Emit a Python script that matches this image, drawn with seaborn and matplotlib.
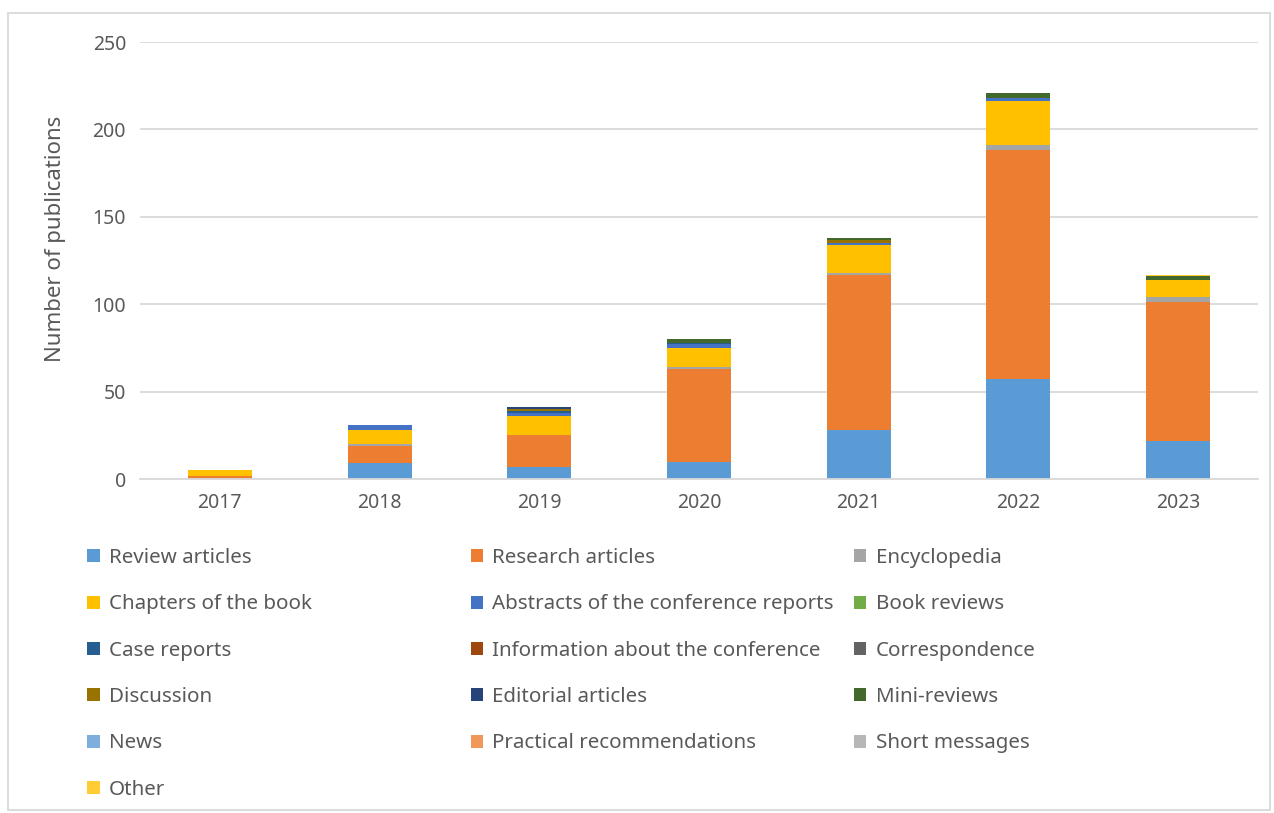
import matplotlib
matplotlib.use("Agg")
import matplotlib.pyplot as plt
from matplotlib.patches import Patch, Rectangle
import numpy as np
import pandas as pd
import seaborn as sns

years = ["2017", "2018", "2019", "2020", "2021", "2022", "2023"]

categories = [
    "Review articles", "Research articles", "Encyclopedia",
    "Chapters of the book", "Abstracts of the conference reports", "Book reviews",
    "Case reports", "Information about the conference", "Correspondence",
    "Discussion", "Editorial articles", "Mini-reviews",
    "News", "Practical recommendations", "Short messages",
    "Other",
]

review = [0, 9, 7, 10, 28, 57, 22]
research = [2, 10, 18, 53, 89, 131, 79]
encyclopedia = [0, 1, 0, 1, 1, 3, 3]
chapters = [3, 8, 11, 11, 16, 25, 10]
abstracts = [0, 3, 2, 2, 1, 2, 0]
book_reviews = [0, 0, 0, 0, 0, 0, 0]
case_reports = [0, 0, 1, 1, 0, 0, 0]
info_conference = [0, 0, 0, 0, 0, 0, 0]
correspondence = [0, 0, 0, 0, 0, 0, 0]
discussion = [0, 0, 1, 0, 2, 0, 0]
editorial = [0, 0, 1, 0, 0, 0, 0]
mini_reviews = [0, 0, 0, 2, 1, 3, 2]
news = [0, 0, 0, 0, 0, 0, 0]
practical = [0, 0, 0, 0, 0, 0, 0]
short_messages = [0, 0, 0, 0, 0, 0, 0]
other = [0, 0, 0, 0, 0, 0, 1]

series = [review, research, encyclopedia, chapters, abstracts, book_reviews,
          case_reports, info_conference, correspondence, discussion, editorial,
          mini_reviews, news, practical, short_messages, other]

colors = ["#5B9BD5", "#ED7D31", "#A5A5A5", "#FFC000", "#4472C4", "#70AD47",
          "#255E91", "#9E480E", "#636363", "#997300", "#264478", "#43682B",
          "#7CAFDD", "#F1975A", "#B7B7B7", "#FFCD33"]

sns.set_style("white")
plt.rcParams["font.family"] = ["Noto Sans", "DejaVu Sans"]
text_color = "#595959"

df = pd.DataFrame(np.array(series).T, columns=categories)
df["year"] = years
cum = df[categories].cumsum(axis=1)
cum["year"] = years

fig = plt.figure(figsize=(12.74, 8.13), dpi=100)
ax = fig.add_axes([0.1099, 0.4108, 0.8775, 0.5375])

# stacked bars: draw cumulative totals from top layer down
for cat, col in reversed(list(zip(categories, colors))):
    sns.barplot(data=cum, x="year", y=cat, color=col, width=0.4,
                saturation=1, ax=ax, linewidth=0)

ax.set_ylim(0, 250)
ax.set_yticks([0, 50, 100, 150, 200, 250])
ax.yaxis.grid(True, color="#D9D9D9", linewidth=1.3)
ax.set_axisbelow(True)
for s in ["top", "right", "left"]:
    ax.spines[s].set_visible(False)
ax.spines["bottom"].set_color("#D9D9D9")
ax.spines["bottom"].set_linewidth(1.3)
ax.tick_params(axis="both", length=0, labelsize=14, labelcolor=text_color, pad=10)
ax.set_xlabel("")
ax.set_ylabel("Number of publications", fontsize=16, color=text_color)
ax.yaxis.set_label_coords(-0.066, 0.549)

# legend in three columns filled row-wise
handles = [Patch(facecolor=c, edgecolor="none") for c in colors]
col_x = [0.062, 0.363, 0.664]
for j in range(3):
    idx = list(range(j, len(categories), 3))
    fig.legend([handles[i] for i in idx], [categories[i] for i in idx],
               loc="upper left", bbox_to_anchor=(col_x[j], 0.336),
               frameon=False, fontsize=14.8, labelcolor=text_color,
               handlelength=0.6, handleheight=0.6, handletextpad=0.45,
               labelspacing=1.28, borderaxespad=0)

fig.patches.append(Rectangle((8 / 1274, 3 / 813), 1262 / 1274, 797 / 813,
                             transform=fig.transFigure, fill=False,
                             edgecolor="#D9D9D9", linewidth=1.3))

fig.savefig("out.png", dpi=100)
